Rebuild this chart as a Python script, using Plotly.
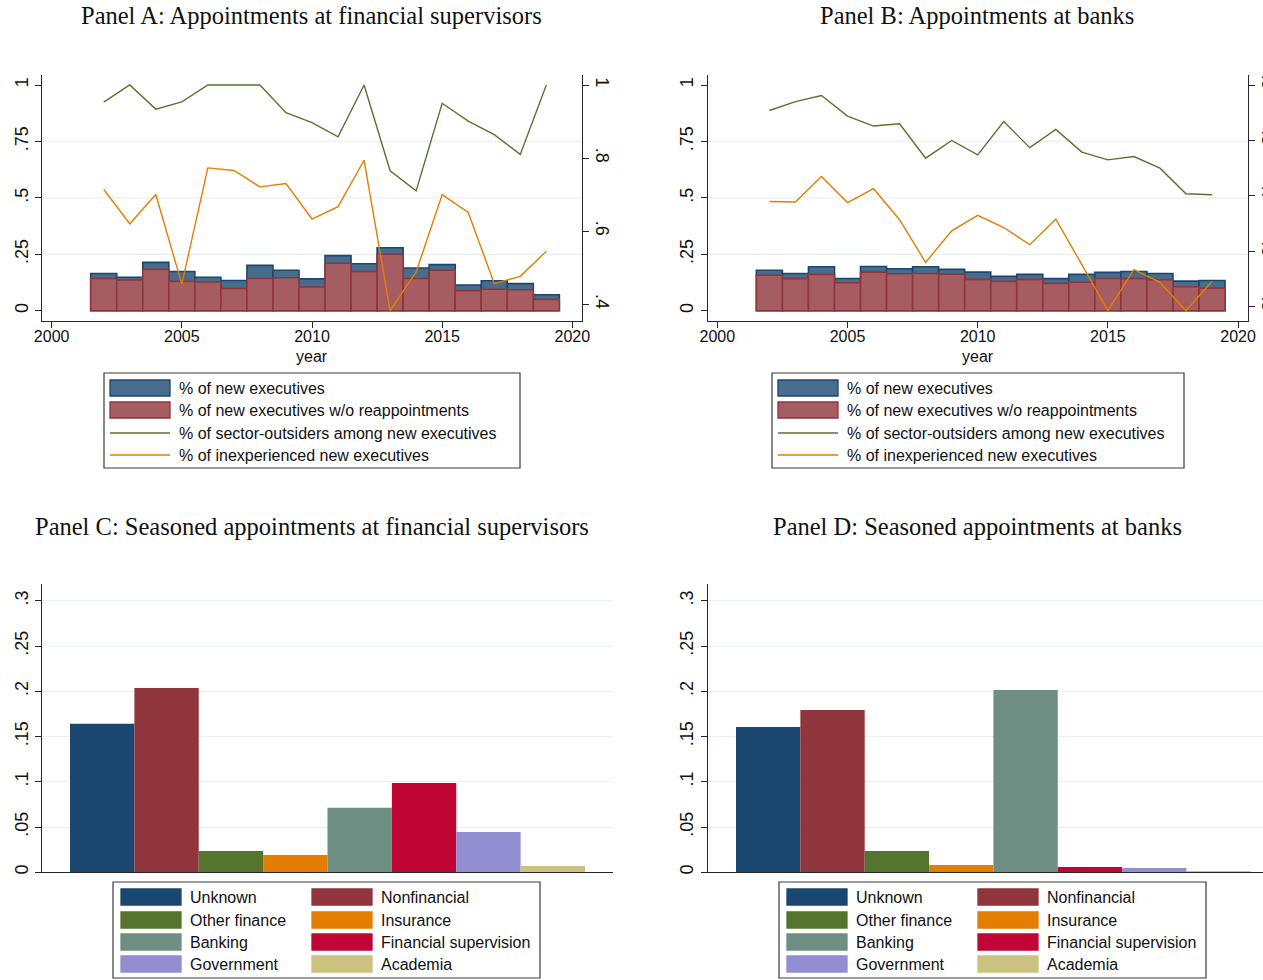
import plotly.graph_objects as go

# ---------------------------------------------------------------- data
YEARS = list(range(2002, 2020))
YEAR_TICKS = [2000, 2005, 2010, 2015, 2020]

# Panel A: financial supervisors
A_NEW = [0.165, 0.148, 0.214, 0.174, 0.148, 0.134, 0.201, 0.179, 0.141,
         0.244, 0.208, 0.279, 0.189, 0.204, 0.114, 0.133, 0.120, 0.071]
A_NEW_NOREAPP = [0.143, 0.136, 0.183, 0.130, 0.127, 0.099, 0.143, 0.146, 0.105,
                 0.210, 0.174, 0.250, 0.143, 0.179, 0.089, 0.095, 0.093, 0.050]
A_OUTSIDERS = [0.953, 1.000, 0.934, 0.954, 1.000, 1.000, 1.000, 0.924, 0.897,
               0.858, 1.000, 0.765, 0.710, 0.950, 0.901, 0.864, 0.810, 1.000]
A_INEXPERIENCED = [0.714, 0.620, 0.700, 0.455, 0.773, 0.766, 0.721, 0.730, 0.633,
                   0.667, 0.794, 0.382, 0.488, 0.700, 0.651, 0.456, 0.476, 0.545]

# Panel B: banks
B_NEW = [0.179, 0.165, 0.195, 0.143, 0.196, 0.186, 0.195, 0.183, 0.171,
         0.152, 0.161, 0.142, 0.161, 0.170, 0.174, 0.165, 0.131, 0.134]
B_NEW_NOREAPP = [0.157, 0.142, 0.161, 0.124, 0.171, 0.164, 0.165, 0.162, 0.139,
                 0.130, 0.139, 0.121, 0.126, 0.143, 0.142, 0.137, 0.106, 0.100]
B_OUTSIDERS = [0.854, 0.870, 0.881, 0.844, 0.826, 0.830, 0.768, 0.800, 0.774,
               0.834, 0.787, 0.820, 0.779, 0.765, 0.771, 0.750, 0.704, 0.702]
B_INEXPERIENCED = [0.690, 0.689, 0.735, 0.688, 0.713, 0.657, 0.580, 0.637, 0.665,
                   0.643, 0.612, 0.658, 0.576, 0.493, 0.567, 0.544, 0.493, 0.546]

# Panels C and D: previous sector of seasoned appointees
SECTORS = ["Unknown", "Nonfinancial", "Other finance", "Insurance",
           "Banking", "Financial supervision", "Government", "Academia"]
C_SHARE = [0.164, 0.2035, 0.0236, 0.0191, 0.0714, 0.0986, 0.0445, 0.0070]
D_SHARE = [0.1605, 0.1793, 0.0236, 0.0081, 0.2013, 0.0059, 0.0048, 0.0015]

SERIES_AB = ["% of new executives",
             "% of new executives w/o reappointments",
             "% of sector-outsiders among new executives",
             "% of inexperienced new executives"]

TITLES = ["Panel A: Appointments at financial supervisors",
          "Panel B: Appointments at banks",
          "Panel C: Seasoned appointments at financial supervisors",
          "Panel D: Seasoned appointments at banks"]

LEFT_TICKS_AB = [0, 0.25, 0.5, 0.75, 1]
LEFT_TEXT_AB = ["0", ".25", ".5", ".75", "1"]
RIGHT_TICKS_A = [0.4, 0.6, 0.8, 1.0]
RIGHT_TEXT_A = [".4", ".6", ".8", "1"]
RIGHT_TICKS_B = [0.5, 0.6, 0.7, 0.8, 0.9]
RIGHT_TEXT_B = [".5", ".6", ".7", ".8", ".9"]
GRID_AB = [0.25, 0.5, 0.75]
TICKS_CD = [0, 0.05, 0.1, 0.15, 0.2, 0.25, 0.3]
TEXT_CD = ["0", ".05", ".1", ".15", ".2", ".25", ".3"]

# ---------------------------------------------------------------- style
W, H = 1263, 980
NAVY, MAROON = "#1a476f", "#90353b"
NAVY_FILL, MAROON_FILL = "#486c8c", "#a65d62"
GREEN, ORANGE = "#55752f", "#e37e00"
SECTOR_COLORS = ["#1a476f", "#90353b", "#55752f", "#e37e00",
                 "#6e8e84", "#c10534", "#938dd2", "#cac27e"]
AXIS = "#262626"
GRID = "#e8f0f1"
SANS = "Liberation Sans"
SERIF = "Liberation Serif"
INK = "#111111"


def px(x):
    return x / W


def py(y):
    return 1 - y / H


def padded(lo, hi, frac=0.0443):
    span = hi - lo
    return [lo - frac * span, hi + frac * span]


fig = go.Figure()

# ---------------------------------------------------------------- panels A, B
panels_ab = [
    ("x", "y", "y2", A_NEW, A_NEW_NOREAPP, A_OUTSIDERS, A_INEXPERIENCED),
    ("x2", "y3", "y4", B_NEW, B_NEW_NOREAPP, B_OUTSIDERS, B_INEXPERIENCED),
]
for xa, ya, ya2, new, noreapp, outs, inexp in panels_ab:
    fig.add_trace(go.Bar(x=YEARS, y=new, width=1, xaxis=xa, yaxis=ya,
                         marker=dict(color=NAVY_FILL, line=dict(color=NAVY, width=1.6)),
                         name=SERIES_AB[0], showlegend=False))
    fig.add_trace(go.Bar(x=YEARS, y=noreapp, width=1, xaxis=xa, yaxis=ya,
                         marker=dict(color=MAROON_FILL, line=dict(color=MAROON, width=1.6)),
                         name=SERIES_AB[1], showlegend=False))
    fig.add_trace(go.Scatter(x=YEARS, y=outs, mode="lines", xaxis=xa, yaxis=ya2,
                             line=dict(color=GREEN, width=1.4),
                             name=SERIES_AB[2], showlegend=False))
    fig.add_trace(go.Scatter(x=YEARS, y=inexp, mode="lines", xaxis=xa, yaxis=ya2,
                             line=dict(color=ORANGE, width=1.4),
                             name=SERIES_AB[3], showlegend=False))

# ---------------------------------------------------------------- panels C, D
for xa, ya, shares in [("x3", "y5", C_SHARE), ("x4", "y6", D_SHARE)]:
    for i, (name, val) in enumerate(zip(SECTORS, shares)):
        fig.add_trace(go.Bar(x=[i], y=[val], width=1, xaxis=xa, yaxis=ya,
                             marker=dict(color=SECTOR_COLORS[i], line=dict(width=0)),
                             name=name, showlegend=False))

# ---------------------------------------------------------------- axes
tick_common = dict(ticks="outside", ticklen=6, tickwidth=1.3, tickcolor=AXIS,
                   showline=True, linecolor=AXIS, linewidth=1.3,
                   zeroline=False, showgrid=False, automargin=False,
                   tickfont=dict(family=SANS, size=16, color=INK))
ytick_font = dict(family=SANS, size=18, color=INK)

x_range_ab = [1999.63, 2020.37]
dom_y_ab = [py(320.7), py(75)]
dom_y_cd = [py(872.3), py(584)]

a_right = padded(min(A_INEXPERIENCED + A_OUTSIDERS), 1.0)
b_right = padded(min(B_INEXPERIENCED + B_OUTSIDERS), 0.9)

fig.update_layout(
    xaxis=dict(domain=[px(42), px(582)], range=x_range_ab, anchor="y",
               tickvals=YEAR_TICKS, ticklabelstandoff=-5, **tick_common),
    yaxis=dict(domain=dom_y_ab, range=padded(0, 1), anchor="x",
               tickvals=LEFT_TICKS_AB, ticktext=LEFT_TEXT_AB, tickangle=-90,
               **{**tick_common, "tickfont": ytick_font}),
    yaxis2=dict(overlaying="y", side="right", anchor="x", range=a_right,
                tickvals=RIGHT_TICKS_A, ticktext=RIGHT_TEXT_A, tickangle=90,
                **{**tick_common, "tickfont": ytick_font}),
    xaxis2=dict(domain=[px(707.7), px(1247.7)], range=x_range_ab, anchor="y3",
                tickvals=YEAR_TICKS, ticklabelstandoff=-5, **tick_common),
    yaxis3=dict(domain=dom_y_ab, range=padded(0, 1), anchor="x2",
                tickvals=LEFT_TICKS_AB, ticktext=LEFT_TEXT_AB, tickangle=-90,
                **{**tick_common, "tickfont": ytick_font}),
    yaxis4=dict(overlaying="y3", side="right", anchor="x2", range=b_right,
                tickvals=RIGHT_TICKS_B, ticktext=RIGHT_TEXT_B, tickangle=90,
                **{**tick_common, "tickfont": ytick_font}),
    xaxis3=dict(domain=[px(42), px(613)], range=[-0.935, 7.935], anchor="y5",
                showticklabels=False, **{**tick_common, "ticks": ""}),
    yaxis5=dict(domain=dom_y_cd, range=[0, 0.3185], anchor="x3",
                tickvals=TICKS_CD, ticktext=TEXT_CD, tickangle=-90,
                **{**tick_common, "tickfont": ytick_font, "showgrid": True,
                   "gridcolor": GRID, "gridwidth": 1.3}),
    xaxis4=dict(domain=[px(707.7), 1.0], range=[-0.94, 7.69], anchor="y6",
                showticklabels=False, **{**tick_common, "ticks": ""}),
    yaxis6=dict(domain=dom_y_cd, range=[0, 0.3185], anchor="x4",
                tickvals=TICKS_CD, ticktext=TEXT_CD, tickangle=-90,
                **{**tick_common, "tickfont": ytick_font, "showgrid": True,
                   "gridcolor": GRID, "gridwidth": 1.3}),
)

# light horizontal guides in panels A and B
for xa, ya in [("x", "y"), ("x2", "y3")]:
    for g in GRID_AB:
        fig.add_shape(type="line", xref=f"{xa} domain", yref=ya, x0=0, x1=1,
                      y0=g, y1=g, layer="below", line=dict(color=GRID, width=1.3))

# ---------------------------------------------------------------- titles
annotations = []
for text, cx, cy in zip(TITLES, [311.5, 977.5, 312, 977.5], [16, 16, 526, 526]):
    annotations.append(dict(text=text, x=px(cx), y=py(cy), xref="paper", yref="paper",
                            xanchor="center", yanchor="middle", showarrow=False,
                            font=dict(family=SERIF, size=24.5, color=INK)))
for cx in [312, 978]:
    annotations.append(dict(text="year", x=px(cx), y=py(356), xref="paper", yref="paper",
                            xanchor="center", yanchor="middle", showarrow=False,
                            font=dict(family=SANS, size=16, color=INK)))

# ---------------------------------------------------------------- legends
shapes = []


def legend_box(x0, y0, x1, y1):
    shapes.append(dict(type="rect", xref="paper", yref="paper",
                       x0=px(x0), x1=px(x1), y0=py(y1), y1=py(y0),
                       line=dict(color="#3a3a3a", width=1.2), fillcolor="white"))


def legend_entry(kind, fill, edge, sx, cy, label):
    if kind == "bar":
        shapes.append(dict(type="rect", xref="paper", yref="paper",
                           x0=px(sx), x1=px(sx + 60), y0=py(cy + 8), y1=py(cy - 8),
                           fillcolor=fill, line=dict(color=edge, width=1.3)))
    else:
        shapes.append(dict(type="line", xref="paper", yref="paper",
                           x0=px(sx), x1=px(sx + 60), y0=py(cy), y1=py(cy),
                           line=dict(color=fill, width=1.4)))
    annotations.append(dict(text=label, x=px(sx + 67), y=py(cy), xref="paper",
                            yref="paper", xanchor="left", yanchor="middle",
                            showarrow=False, font=dict(family=SANS, size=16, color=INK)))


rows_ab = [388, 410, 433, 455]
styles_ab = [("bar", NAVY_FILL, NAVY), ("bar", MAROON_FILL, MAROON),
             ("line", GREEN, None), ("line", ORANGE, None)]
for bx0, bx1 in [(104, 520), (772, 1184)]:
    legend_box(bx0, 373, bx1, 468)
    for (kind, fill, edge), cy, label in zip(styles_ab, rows_ab, SERIES_AB):
        legend_entry(kind, fill, edge, bx0 + 6, cy, label)

rows_cd = [897, 920, 942, 964]
for bx0, bx1 in [(113, 540), (779, 1206)]:
    legend_box(bx0, 882, bx1, 978)
    for i, (name, col) in enumerate(zip(SECTORS, SECTOR_COLORS)):
        sx = bx0 + 8 + (i % 2) * 191
        legend_entry("bar", col, col, sx, rows_cd[i // 2], name)

fig.update_layout(
    width=W, height=H, autosize=False,
    margin=dict(l=0, r=0, t=0, b=0),
    template="none",
    paper_bgcolor="white", plot_bgcolor="white",
    barmode="overlay", showlegend=False,
    annotations=annotations, shapes=fig.layout.shapes + tuple(shapes),
)

fig.write_html("out.html")
